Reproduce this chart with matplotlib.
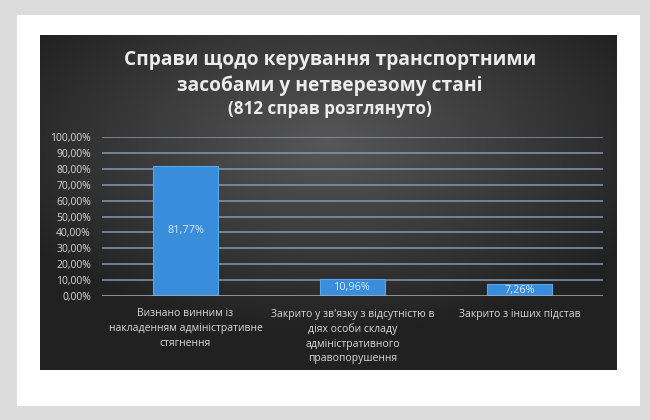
import numpy as np
import matplotlib.pyplot as plt
from matplotlib.patches import Rectangle

plt.rcParams['font.family'] = ['Open Sans', 'DejaVu Sans']

# data
categories = ['Визнано винним із\nнакладенням адміністративне\nстягнення',
              'Закрито у зв\'язку з відсутністю в\nдіях особи складу\nадміністративного\nправопорушення',
              'Закрито з інших підстав']
values = [0.8177, 0.1096, 0.0726]
value_labels = ['81,77%', '10,96%', '7,26%']
yticks = np.arange(0, 1.01, 0.1)
ytick_labels = ['%.2f%%' % (t * 100) for t in yticks]
ytick_labels = [s.replace('.', ',') for s in ytick_labels]

title = 'Справи щодо керування транспортними\nзасобами у нетверезому стані'
subtitle = '(812 справ розглянуто)'

W, H = 650, 420
fig = plt.figure(figsize=(6.5, 4.2), dpi=100, facecolor='#dcdcdc')

# white card
fig.patches.append(Rectangle((17 / W, 1 - 406 / H), 623 / W, 391 / H,
                             transform=fig.transFigure, facecolor='white',
                             edgecolor='none', zorder=0))

# dark panel with radial gradient
px0, px1, py0, py1 = 40, 617, 35, 370
bg = fig.add_axes([px0 / W, 1 - py1 / H, (px1 - px0) / W, (py1 - py0) / H], zorder=1)
xx, yy = np.meshgrid(np.linspace(-1, 1, 400), np.linspace(-1, 1, 250))
r = np.sqrt(xx ** 2 + ((yy + 0.35) * 1.1) ** 2)
shade = np.clip(0.34 - 0.17 * r, 0.13, 0.34)
bg.imshow(np.dstack([shade, shade, shade]), aspect='auto', extent=[0, 1, 0, 1])
bg.set_axis_off()

# chart axes
ax = fig.add_axes([102 / W, 1 - 296 / H, 501 / W, 159 / H], zorder=2)
ax.patch.set_alpha(0)
x = np.arange(len(categories))
for t in yticks[1:]:
    ax.axhline(t, color='#8299b2', lw=1.1, zorder=1)
ax.axhline(0, color='#a8b4c0', lw=1.8, zorder=3)

bars = ax.bar(x, values, width=0.39, color='#3a8ddb', edgecolor='#5aa6ea',
              linewidth=0.8, zorder=2)
for b, v, lab in zip(bars, values, value_labels):
    ax.text(b.get_x() + b.get_width() / 2, v / 2, lab, ha='center', va='center',
            color='#d6e8f8', fontsize=7.8, zorder=4)

ax.set_xlim(-0.5, len(categories) - 0.5)
ax.set_ylim(0, 1.0)
ax.set_yticks(yticks)
ax.set_yticklabels(ytick_labels, color='#d8d8d8', fontsize=7.5)
ax.set_xticks(x)
ax.set_xticklabels(categories, color='#d8d8d8', fontsize=7.5, linespacing=1.45,
                   va='top')
ax.tick_params(axis='both', length=0, pad=8)
ax.tick_params(axis='x', pad=9)
for s in ax.spines.values():
    s.set_visible(False)

fig.text(330 / W, 1 - 73 / H, title, ha='center', va='center', color='#ececec',
         fontsize=13.8, fontweight='bold', linespacing=1.3, zorder=5)
fig.text(330 / W, 1 - 109 / H, subtitle, ha='center', va='center',
         color='#ececec', fontsize=12.3, fontweight='bold', zorder=5)

plt.savefig('out.png', dpi=100, facecolor=fig.get_facecolor())
